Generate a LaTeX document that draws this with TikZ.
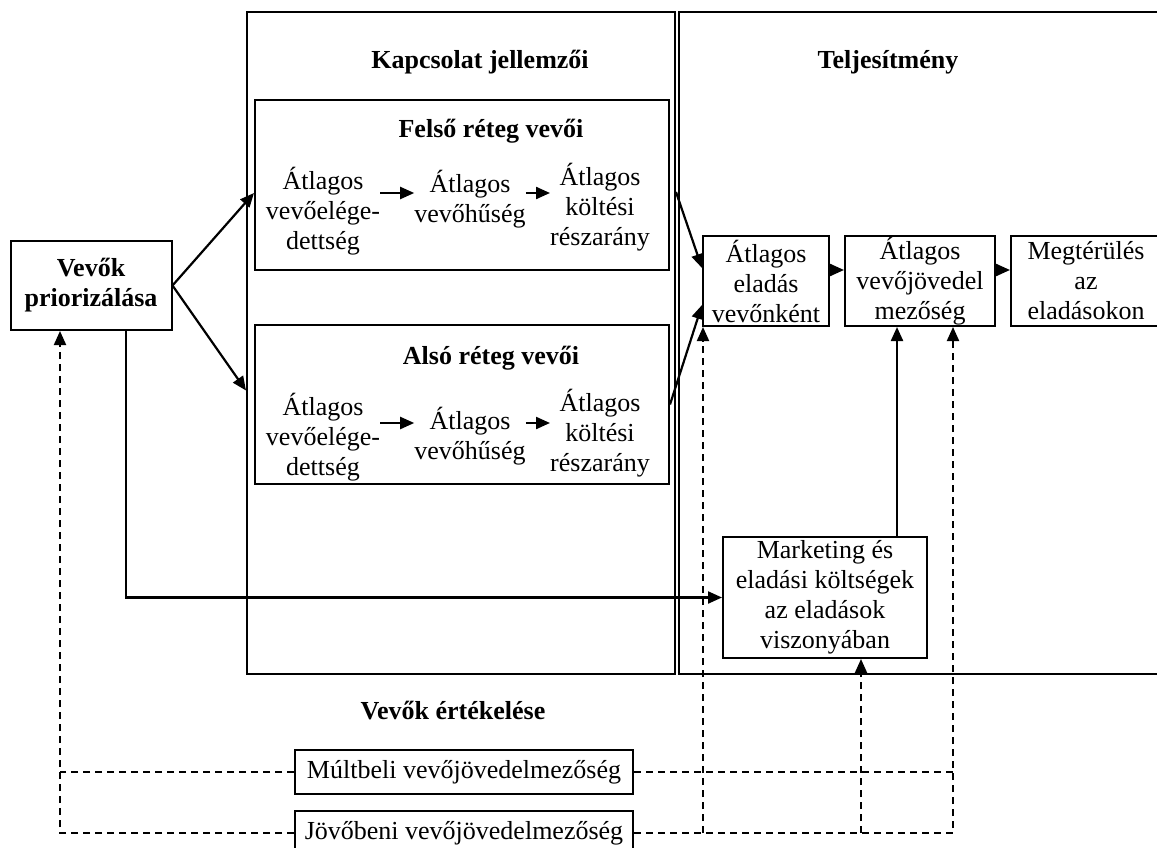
\documentclass[tikz,border=0pt]{standalone}
\usepackage{fontspec}
\setmainfont{Liberation Serif}
\usetikzlibrary{arrows.meta,calc}
\begin{document}
\begin{tikzpicture}[x=1pt,y=-1pt,
  font=\fontsize{26}{30}\selectfont,
  box/.style={draw,line width=2pt,inner sep=0pt,align=center},
  txt/.style={inner sep=0pt,align=center},
  head/.style={inner sep=0pt,font=\fontsize{26}{30}\selectfont\bfseries},
  arr/.style={line width=2.2pt,-{Triangle[length=14pt,width=12pt]}},
  dline/.style={line width=2pt,dash pattern=on 7pt off 5pt},
  darr/.style={dline,-{Triangle[length=14pt,width=12pt]}},
]
\useasboundingbox (0,0) rectangle (1157,848);
\clip (0,0) rectangle (1157,848);

% frames of the two main panels
\node[box,minimum width=428pt,minimum height=662pt] (kap) at (461,343) {};
\node[box,minimum width=521pt,minimum height=662pt] (tel) at (939.5,343) {};
\node[head] (kapt) at (480,62) {Kapcsolat jellemzői};
\node[head] (telt) at (888,62) {Teljesítmény};

% customer tiers
\node[box,minimum width=414pt,minimum height=170pt] (felso) at (462,185) {};
\node[head] (felsot) at (491,131) {Felső réteg vevői};
\node[txt] (f1) at (323,211) {Átlagos\\vevőelége-\\dettség};
\node[txt] (f2) at (470,199) {Átlagos\\vevőhűség};
\node[txt] (f3) at (600,207) {Átlagos\\költési\\részarány};
\draw[arr] ([yshift=6pt]f2.west -| f1.east) -- ([yshift=6pt]f2.west);
\draw[arr] ([yshift=6pt]f2.east) -- ([yshift=6pt]f2.east -| f3.west);

\node[box,minimum width=414pt,minimum height=159pt] (also) at (462,404.5) {};
\node[head] (alsot) at (491,358) {Alsó réteg vevői};
\node[txt] (a1) at (323,437) {Átlagos\\vevőelége-\\dettség};
\node[txt] (a2) at (470,436) {Átlagos\\vevőhűség};
\node[txt] (a3) at (600,433) {Átlagos\\költési\\részarány};
\draw[arr] ([yshift=13pt]a2.west -| a1.east) -- ([yshift=13pt]a2.west);
\draw[arr] ([yshift=13pt]a2.east) -- ([yshift=13pt]a2.east -| a3.west);

% prioritisation
\node[box,font=\fontsize{26}{30}\selectfont\bfseries,minimum width=161pt,minimum height=89pt] (prio) at (91,285.5) {Vevők\\priorizálása};

% performance measures
\node[box,minimum width=126pt,minimum height=90pt] (eladas) at (766,281) {Átlagos\\eladás\\vevőnként};
\node[box,minimum width=150pt,minimum height=90pt] (jv) at (920,281) {Átlagos\\vevőjövedel\\mezőség};
\node[box,minimum width=150pt,minimum height=90pt] (megt) at (1086,281) {Megtérülés\\az\\eladásokon};
\node[box,minimum width=204pt,minimum height=121pt] (mkt) at (825,597.5) {Marketing és\\eladási költségek\\az eladások\\viszonyában};

% customer evaluation
\node[head] (ert) at (453,711) {Vevők értékelése};
\node[box,minimum width=338pt,minimum height=44pt] (mult) at (464,772) {Múltbeli vevőjövedelmezőség};
\node[box,minimum width=338pt,minimum height=44pt] (jov) at (464,833) {Jövőbeni vevőjövedelmezőség};

% solid connectors
\draw[arr] (prio.east) -- ([yshift=-8pt]felso.west);
\draw[arr] (prio.east) -- ([xshift=-8pt,yshift=14pt]also.west);
\draw[arr] ([xshift=6pt,yshift=-7pt]felso.east) -- ([yshift=13pt]eladas.west);
\draw[arr] (also.east) -- ([yshift=-24pt]eladas.west);
\draw[arr] ([yshift=11pt]eladas.east) -- ([yshift=11pt]jv.west);
\draw[arr] ([yshift=11pt]jv.east) -- ([yshift=11pt]megt.west);
\draw[arr] ([xshift=35pt]prio.south) |- (mkt.west);
\draw[arr] ([xshift=-23pt]jv.south |- mkt.north) -- ([xshift=-23pt]jv.south);

% dashed feedback lines
\coordinate (lc) at (60,833);
\coordinate (rc) at (953,833);
\coordinate (d1) at (703,833);
\coordinate (d2) at (861,833);
\draw[darr] (jov.west) -- (lc) -- (lc |- prio.south);
\draw[dline] (mult.west) -- (mult.west -| lc);
\draw[darr] (jov.east) -- (rc) -- (rc |- jv.south);
\draw[dline] (mult.east) -- (mult.east -| rc);
\draw[darr] (d1) -- (d1 |- eladas.south);
\draw[darr] (d2) -- (d2 |- mkt.south);
\end{tikzpicture}
\end{document}
